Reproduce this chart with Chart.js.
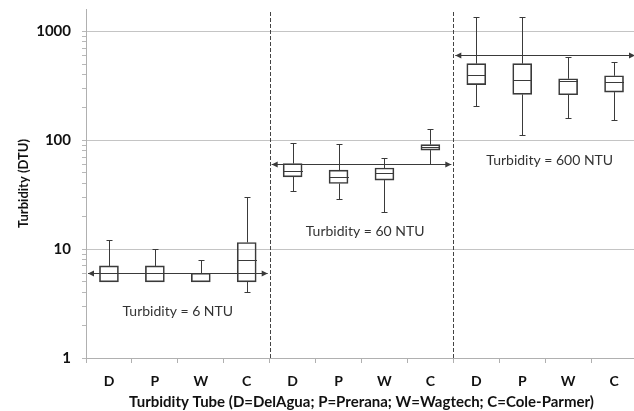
<!DOCTYPE html>
<html><head><meta charset="utf-8">
<script src="https://cdn.jsdelivr.net/npm/chart.js@4/dist/chart.umd.min.js"></script>
<style>html,body{margin:0;padding:0;overflow:hidden;background:#fff}canvas{display:block}</style>
</head><body>
<canvas id="c" width="637" height="411" style="width:637px;height:411px"></canvas>
<script>
const categories = ['D','P','W','C','D','P','W','C','D','P','W','C'];
const whiskerLow  = [5, 5, 5, 4,    34, 29, 22, 60,   207, 112, 159, 153];
const boxLow      = [5, 5, 5, 5,    46, 40, 43, 81,   324, 263, 261, 276];
const medians     = [6, 6, 6, 8,    52, 46, 50, 86,   395, 353, 346, 344];
const boxHigh     = [7, 7, 6, 11.5, 61, 53, 55.5, 91, 504, 504, 366, 390];
const whiskerHigh = [12, 10, 8, 30, 95, 93, 68, 127,  1350, 1350, 584, 522];
const nominalTurbidity = [6, 60, 600];
const groupLabels = ['Turbidity = 6 NTU', 'Turbidity = 60 NTU', 'Turbidity = 600 NTU'];
const yTickLabels = [1, 10, 100, 1000];
const xTitle = 'Turbidity Tube (D=DelAgua; P=Prerana; W=Wagtech; C=Cole-Parmer)';
const yTitle = 'Turbidity (DTU)';

const LINE = '#3a3a3a';
const textAnchors = [{i: 1.5, v: 2.65}, {i: 5.58, v: 14.4}, {i: 9.6, v: 65}];

const boxPlugin = {
  id: 'boxes',
  afterDatasetsDraw(chart) {
    const {ctx, scales: {x, y}, chartArea: a} = chart;
    const meta = chart.getDatasetMeta(0);
    ctx.save();
    // group separators
    ctx.strokeStyle = '#444'; ctx.lineWidth = 1; ctx.setLineDash([4, 2]);
    [3.5, 7.5].forEach(b => {
      const px = Math.round(x.getPixelForValue(b)) + 0.5;
      ctx.beginPath(); ctx.moveTo(px, a.top + 3); ctx.lineTo(px, a.bottom); ctx.stroke();
    });
    ctx.setLineDash([]);
    // whiskers, caps, medians
    ctx.strokeStyle = LINE;
    categories.forEach((c, i) => {
      const cx = Math.round(x.getPixelForValue(i)) + 0.5;
      const bw = meta.data[i].width;
      const yMin = y.getPixelForValue(whiskerLow[i]);
      const yQ1 = y.getPixelForValue(boxLow[i]);
      const yMed = Math.round(y.getPixelForValue(medians[i])) + 0.5;
      const yQ3 = y.getPixelForValue(boxHigh[i]);
      const yMax = y.getPixelForValue(whiskerHigh[i]);
      ctx.beginPath();
      if (whiskerHigh[i] > boxHigh[i]) {
        ctx.moveTo(cx, yQ3); ctx.lineTo(cx, Math.round(yMax) + 0.5);
        ctx.moveTo(cx - 3, Math.round(yMax) + 0.5); ctx.lineTo(cx + 3, Math.round(yMax) + 0.5);
      }
      if (whiskerLow[i] < boxLow[i]) {
        ctx.moveTo(cx, yQ1); ctx.lineTo(cx, Math.round(yMin) + 0.5);
        ctx.moveTo(cx - 3, Math.round(yMin) + 0.5); ctx.lineTo(cx + 3, Math.round(yMin) + 0.5);
      }
      ctx.moveTo(cx - bw / 2, yMed); ctx.lineTo(cx + bw / 2, yMed);
      ctx.stroke();
    });
    // nominal turbidity arrows
    ctx.strokeStyle = LINE; ctx.fillStyle = LINE;
    nominalTurbidity.forEach((v, g) => {
      const x0 = x.getPixelForValue(g * 4 - 0.5) + 2;
      const x1 = x.getPixelForValue(g * 4 + 3.5) - 2;
      const py = Math.round(y.getPixelForValue(v)) + 0.5;
      ctx.beginPath(); ctx.moveTo(x0, py); ctx.lineTo(x1, py); ctx.stroke();
      ctx.beginPath(); ctx.moveTo(x0, py); ctx.lineTo(x0 + 6, py - 3); ctx.lineTo(x0 + 6, py + 3); ctx.closePath(); ctx.fill();
      ctx.beginPath(); ctx.moveTo(x1, py); ctx.lineTo(x1 - 6, py - 3); ctx.lineTo(x1 - 6, py + 3); ctx.closePath(); ctx.fill();
    });
    // group labels
    ctx.font = '14px Lato'; ctx.fillStyle = '#333'; ctx.textAlign = 'center'; ctx.textBaseline = 'middle';
    groupLabels.forEach((t, g) => {
      ctx.fillText(t, x.getPixelForValue(textAnchors[g].i), y.getPixelForValue(textAnchors[g].v));
    });
    ctx.restore();
  }
};

new Chart(document.getElementById('c'), {
  type: 'bar',
  data: {
    labels: categories,
    datasets: [{
      data: boxLow.map((l, i) => [l, boxHigh[i]]),
      backgroundColor: 'rgba(0,0,0,0)',
      borderColor: LINE,
      borderWidth: 1,
      borderSkipped: false,
      barThickness: 19
    }]
  },
  options: {
    responsive: false,
    animation: false,
    layout: {padding: {top: 9, right: 0, left: 0, bottom: 0}},
    plugins: {legend: {display: false}, tooltip: {enabled: false}},
    scales: {
      x: {
        type: 'category',
        offset: true,
        afterFit(s) { s.height = 53; s.paddingLeft = 0; s.paddingRight = 0; },
        grid: {drawOnChartArea: false, offset: true, tickLength: 5, tickColor: '#b0b0b0'},
        border: {color: '#b0b0b0'},
        ticks: {font: {family: 'Lato', size: 14, weight: 'bold'}, color: '#111', padding: 10, maxRotation: 0},
        title: {display: true, text: xTitle, font: {family: 'Lato', size: 15, weight: 'bold'}, color: '#111', padding: {top: 0, bottom: 0}}
      },
      y: {
        type: 'logarithmic',
        min: 1, max: 1600,
        afterFit(s) { s.width = 86; s.paddingTop = 0; s.paddingBottom = 0; },
        afterBuildTicks(s) {
          const t = [];
          for (let d = 1; d <= 1000; d *= 10) for (let k = 1; k < 10; k++) { if (d * k <= 1600) t.push({value: d * k}); }
          s.ticks = t;
        },
        grid: {
          color: c => (c.tick && yTickLabels.includes(c.tick.value)) ? '#c4c4c4' : 'rgba(0,0,0,0)',
          tickColor: '#b8b8b8', tickLength: 4
        },
        border: {color: '#b0b0b0'},
        ticks: {
          autoSkip: false,
          font: {family: 'Lato', size: 15, weight: 'bold'}, color: '#111', padding: 11,
          callback: v => yTickLabels.includes(v) ? String(v) : ''
        },
        title: {display: true, text: yTitle, font: {family: 'Lato', size: 13, weight: 'bold'}, color: '#111', padding: {top: 16, bottom: 0}}
      }
    }
  },
  plugins: [boxPlugin]
});
</script>
</body></html>
